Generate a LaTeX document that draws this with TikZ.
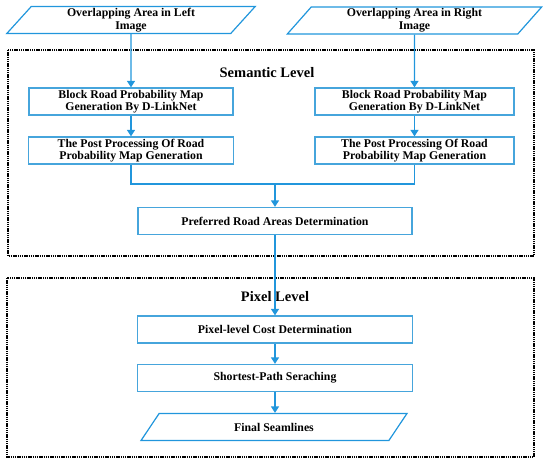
\documentclass[tikz,border=0pt]{standalone}
\usepackage{fontspec}
\setmainfont{Liberation Serif}
\usetikzlibrary{positioning, arrows.meta, shapes.geometric, calc}
\definecolor{flowblue}{RGB}{33, 150, 220}
\definecolor{boxblue}{RGB}{70, 165, 220}

\begin{document}
\begin{tikzpicture}[x=1pt, y=-1pt,
      box/.style={draw=boxblue, line width=1.3pt, fill=white,
                  minimum width=#1, minimum height=27pt, inner sep=1pt,
                  font=\fontsize{11.8}{12.6}\selectfont\bfseries, align=center},
      box/.default=204pt,
      iobox/.style={draw=flowblue, line width=1.2pt, trapezium,
                  trapezium left angle=58, trapezium right angle=122,
                  trapezium stretches=true, minimum width=#1, minimum height=27pt,
                  inner sep=1pt, font=\fontsize{11.8}{12.6}\selectfont\bfseries, align=center},
      level/.style={draw=black, line width=1.2pt, dash pattern=on 1.4pt off 0.8pt},
      title/.style={font=\fontsize{14.5}{16}\selectfont\bfseries},
      arr/.style={-{Triangle[length=6.5pt, width=8pt]}, line width=1.3pt, flowblue},
      lnk/.style={line width=1.3pt, flowblue}]
    \useasboundingbox (0,0) rectangle (550,463);
    % dashed level frames
    \draw[level] (8,50) rectangle (534,256);
    \draw[level] (7,278) rectangle (534,457);
    \node[title] (sem) at (267,73) {Semantic Level};
    \node[title] (pix) at (275,297) {Pixel Level};
    % inputs
    \node[iobox=249pt] (inL) at (131,20) {Overlapping Area in Left\\Image};
    \node[iobox=255pt] (inR) at (414.5,20.5) {Overlapping Area in Right\\Image};
    % semantic level
    \node[box=204pt] (blkL)  at (131,101.5) {Block Road Probability Map\\Generation By D-LinkNet};
    \node[box=199pt] (blkR)  at (414.5,101.5) {Block Road Probability Map\\Generation By D-LinkNet};
    \node[box=205pt] (postL) at (131,150.5) {The Post Processing Of Road\\Probability Map Generation};
    \node[box=199pt] (postR) at (414.5,150.5) {The Post Processing Of Road\\Probability Map Generation};
    \node[box=274pt] (pref)  at (275,221) {Preferred Road Areas Determination};
    \coordinate (mrg) at (275,184);
    % pixel level
    \node[box=275pt] (cost)  at (275,329.5) {Pixel-level Cost Determination};
    \node[box=275pt] (short) at (275,378) {Shortest-Path Seraching};
    \node[iobox=268pt] (fin) at (274,427) {Final Seamlines};
    % connectors
    \draw[arr] (inL) -- (blkL); \draw[arr] (inR) -- (blkR);
    \draw[arr] (blkL) -- (postL); \draw[arr] (blkR) -- (postR);
    \draw[lnk] (postL.south) |- (mrg) -| (postR.south);
    \draw[arr] (mrg) -- (pref);
    \draw[arr] (pref) -- (cost);
    \draw[arr] (cost) -- (short);
    \draw[arr] (short) -- (short |- fin.north);
  \end{tikzpicture}
\end{document}
